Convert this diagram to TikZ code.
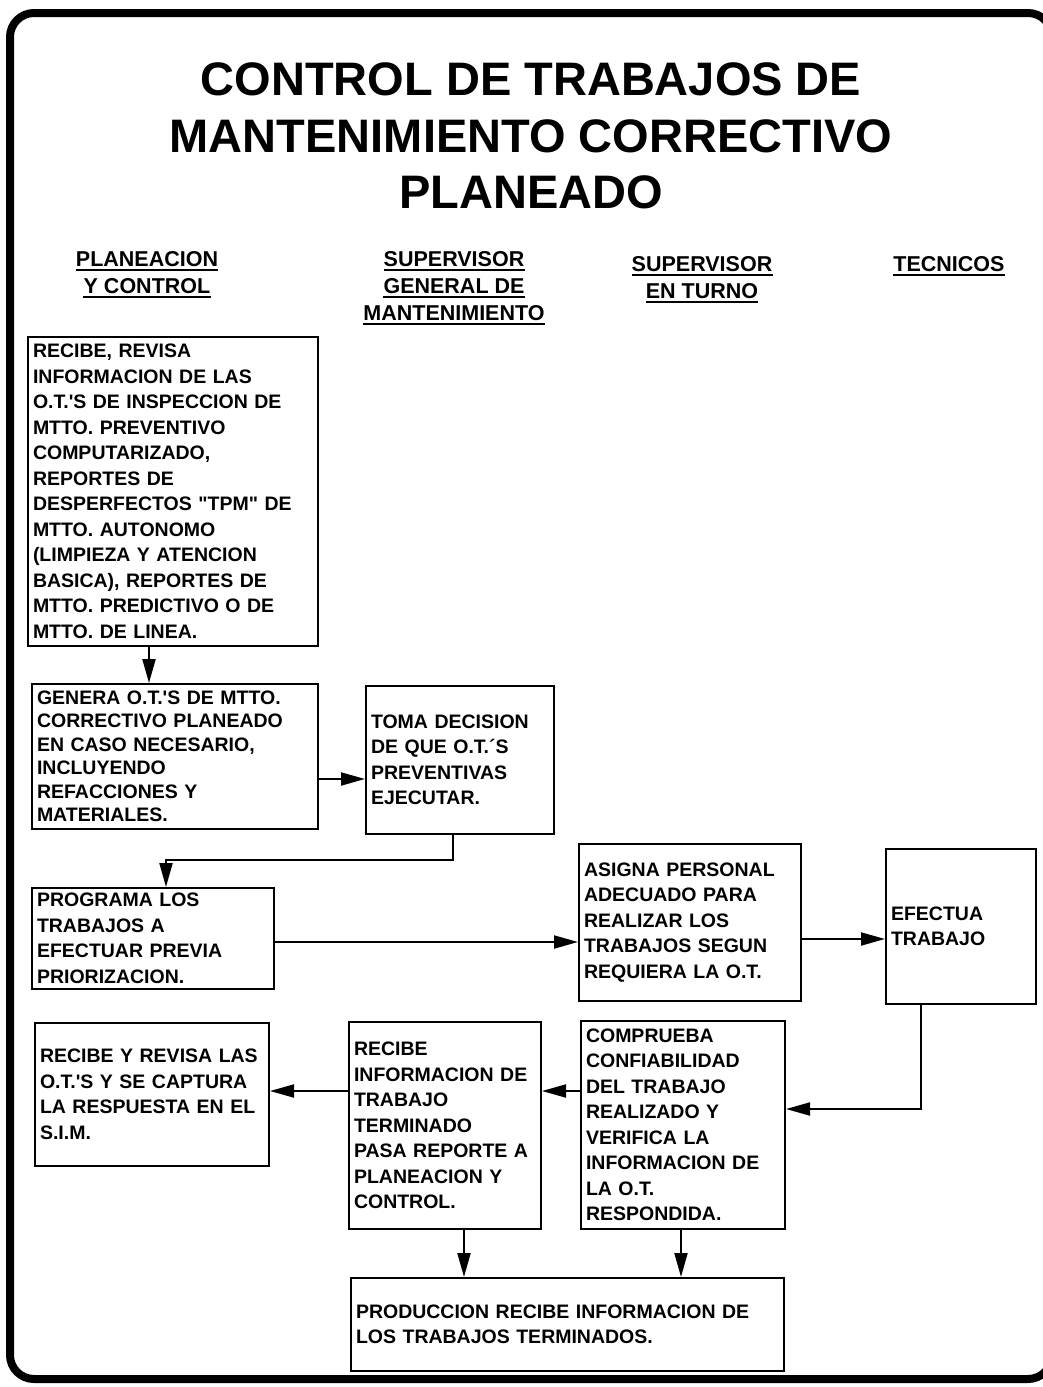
\documentclass[tikz,border=0pt]{standalone}
\usepackage{fontspec}
\setmainfont{Liberation Sans}
\usetikzlibrary{arrows.meta}
\begin{document}
\begin{tikzpicture}[x=1pt,y=-1pt,
  box/.style={draw, line width=2pt, rectangle, inner xsep=5pt, inner ysep=0pt,
    align=left, anchor=north west,
    font=\fontsize{19.5}{25.5}\selectfont\bfseries},
  hdr/.style={anchor=base, inner sep=0pt,
    font=\fontsize{21.5}{27}\selectfont\bfseries},
  uline/.style={line width=2.5pt},
  conn/.style={line width=2pt, -{Triangle[length=24pt,width=13pt]}}]
\useasboundingbox (0,0) rectangle (1042,1387);
\fill[white] (0,0) rectangle (1042,1387);
% outer frame
\draw[line width=8pt, rounded corners=24pt] (10,13) rectangle (1052,1379);
% title
\node[anchor=north, inner sep=0pt, align=center,
  font=\fontsize{47}{56.5}\selectfont\bfseries] (title) at (531,62.5)
  {CONTROL DE TRABAJOS DE\\MANTENIMIENTO CORRECTIVO\\PLANEADO};
% lane headers
\node[hdr] (h1a) at (147,266) {PLANEACION};
\node[hdr] (h1b) at (147,293) {Y CONTROL};
\node[hdr] (h2a) at (454,266) {SUPERVISOR};
\node[hdr] (h2b) at (454,293) {GENERAL DE};
\node[hdr] (h2c) at (454,320) {MANTENIMIENTO};
\node[hdr] (h3a) at (702,271) {SUPERVISOR};
\node[hdr] (h3b) at (702,298) {EN TURNO};
\node[hdr] (h4a) at (949,271) {TECNICOS};
\foreach \h in {h1a,h1b,h2a,h2b,h2c,h3a,h3b,h4a}
  \draw[uline] ([yshift=-4pt]\h.base west) -- ([yshift=-4pt]\h.base east);
% boxes
\node[box, text width=280pt, minimum height=309pt] (b1) at (27,336)
  {RECIBE, REVISA\\INFORMACION DE LAS\\O.T.\textquotesingle S DE INSPECCION DE\\MTTO. PREVENTIVO\\COMPUTARIZADO,\\REPORTES DE\\DESPERFECTOS \textquotedbl TPM\textquotedbl{} DE\\MTTO. AUTONOMO\\(LIMPIEZA Y ATENCION\\BASICA), REPORTES DE\\MTTO. PREDICTIVO O DE\\MTTO. DE LINEA.};
\node[box, text width=276pt, minimum height=145pt,
  font=\fontsize{19.5}{23.5}\selectfont\bfseries] (b2) at (31,683)
  {GENERA O.T.\textquotesingle S DE MTTO.\\CORRECTIVO PLANEADO\\EN CASO NECESARIO,\\INCLUYENDO\\REFACCIONES Y\\MATERIALES.};
\node[box, text width=178pt, minimum height=148pt] (b3) at (365,685)
  {TOMA DECISION\\DE QUE O.T.´S\\PREVENTIVAS\\EJECUTAR.};
\node[box, text width=232pt, minimum height=101pt] (b4) at (31,887)
  {PROGRAMA LOS\\TRABAJOS A\\EFECTUAR PREVIA\\PRIORIZACION.};
\node[box, text width=212pt, minimum height=157pt] (b5) at (578,843)
  {ASIGNA PERSONAL\\ADECUADO PARA\\REALIZAR LOS\\TRABAJOS SEGUN\\REQUIERA LA O.T.};
\node[box, text width=140pt, minimum height=155pt] (b6) at (885,848)
  {EFECTUA\\TRABAJO};
\node[box, text width=194pt, minimum height=208pt] (b7) at (580,1020)
  {COMPRUEBA\\CONFIABILIDAD\\DEL TRABAJO\\REALIZADO Y\\VERIFICA LA\\INFORMACION DE\\LA O.T.\\RESPONDIDA.};
\node[box, text width=182pt, minimum height=207pt] (b8) at (348,1021)
  {RECIBE\\INFORMACION DE\\TRABAJO\\TERMINADO\\PASA REPORTE A\\PLANEACION Y\\CONTROL.};
\node[box, text width=224pt, minimum height=143pt] (b9) at (34,1022)
  {RECIBE Y REVISA LAS\\O.T.\textquotesingle S Y SE CAPTURA\\LA RESPUESTA EN EL\\S.I.M.};
\node[box, text width=423pt, minimum height=93pt] (b10) at (350,1277)
  {PRODUCCION RECIBE INFORMACION DE\\LOS TRABAJOS TERMINADOS.};
% connectors
\draw[conn] ([xshift=-24pt]b1.south) -- ([xshift=-24pt]b1.south |- b2.north);
\draw[conn] ([yshift=-22.5pt]b2.east) -- ([yshift=-22.5pt]b2.east -| b3.west);
\draw[conn] ([xshift=-7pt]b3.south) -- ++(0,25) -| ([xshift=13pt]b4.north);
\draw[conn] ([yshift=-3.5pt]b4.east) -- ([yshift=-3.5pt]b4.east -| b5.west);
\draw[conn] ([yshift=-16.5pt]b5.east) -- ([yshift=-16.5pt]b5.east -| b6.west);
\draw[conn] ([xshift=-40pt]b6.south) |- ([yshift=16pt]b7.east);
\draw[conn] ([yshift=34pt]b7.west) -- ([yshift=34pt]b7.west -| b8.east);
\draw[conn] ([yshift=34.5pt]b8.west) -- ([yshift=34.5pt]b8.west -| b9.east);
\draw[conn] ([xshift=19pt]b8.south) -- ([xshift=19pt]b8.south |- b10.north);
\draw[conn] ([xshift=-2pt]b7.south) -- ([xshift=-2pt]b7.south |- b10.north);
\end{tikzpicture}
\end{document}
